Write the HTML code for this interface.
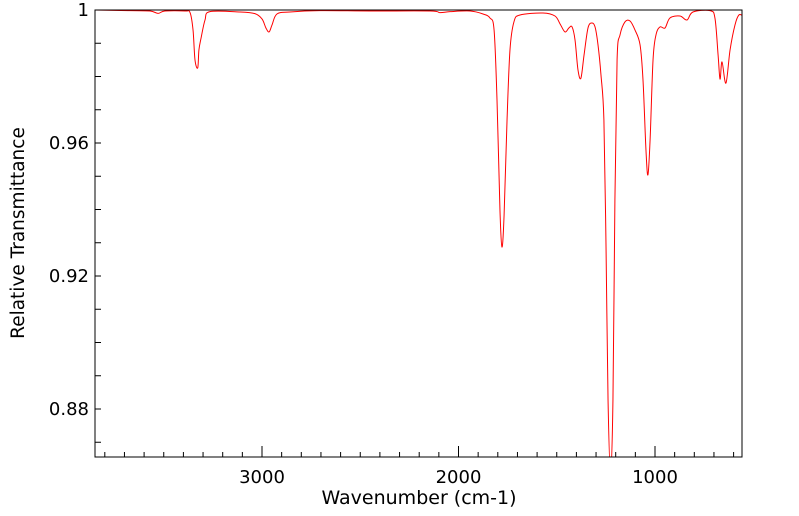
<!DOCTYPE html>
<html><head><meta charset="utf-8"><style>
body{margin:0;background:#fff}
svg{display:block;font-family:"DejaVu Sans","Liberation Sans",sans-serif}
</style></head><body>
<svg id="chart" width="799" height="516">
<g id="axes"></g>
<g clip-path="url(#clip)"><path id="line" fill="none" stroke="#ff0000" stroke-width="1"/></g>
<clipPath id="clip"><rect x="95" y="10" width="647" height="447"/></clipPath>
<rect x="95" y="10" width="647" height="447" fill="none" stroke="#000" stroke-width="1"/>
<text x="419" y="504" text-anchor="middle" font-size="19">Wavenumber (cm-1)</text>
<text transform="translate(24,233) rotate(-90)" text-anchor="middle" font-size="18.5">Relative Transmittance</text>
</svg>
<script>
const wavenumbers=[3850,3672,3570,3529,3494,3392,3366,3351,3341,3327,3321,3310,3290,3265,3112,3036,3000,2980,2964,2949,2924,2858,2705,2450,2145,2094,2043,1941,1875,1840,1819,1804,1789,1779,1768,1753,1738,1718,1687,1570,1509,1483,1458,1438,1422,1407,1392,1377,1361,1341,1321,1305,1290,1275,1260,1249,1239,1226,1214,1204,1193,1178,1153,1127,1102,1076,1061,1046,1036,1025,1010,995,975,949,924,873,837,807,720,695,679,669,659,639,618,593,573,552];
const transmittance=[1.000,0.9998,0.9997,0.9990,0.9997,0.9997,0.9992,0.9940,0.9850,0.9826,0.9880,0.9916,0.9970,0.9995,0.9994,0.9989,0.9973,0.9946,0.9934,0.9955,0.9988,0.9994,0.9998,0.9997,0.9997,0.9992,0.9995,0.9997,0.9988,0.9976,0.9940,0.9729,0.9398,0.9287,0.9383,0.9669,0.9880,0.9964,0.9985,0.9991,0.9982,0.9958,0.9934,0.9946,0.9949,0.9910,0.9820,0.9795,0.9865,0.9946,0.9961,0.9949,0.9895,0.9805,0.9669,0.9278,0.8827,0.8602,0.8827,0.9429,0.9850,0.9925,0.9964,0.9967,0.9940,0.9895,0.9789,0.9579,0.9504,0.9609,0.9850,0.9925,0.9949,0.9946,0.9976,0.9982,0.9970,0.9994,0.9998,0.9976,0.9865,0.9792,0.9844,0.9780,0.9880,0.9955,0.9985,0.9982];
const xTicks=[3000,2000,1000];
const xTickLabels=["3000","2000","1000"];
const yTicks=[0.88,0.92,0.96,1];
const yTickLabels=["0.88","0.92","0.96","1"];
const X=w=>262+(3000-w)*0.1965;
const Y=t=>10+(1-t)*3325;
const NS="http://www.w3.org/2000/svg";
const axes=document.getElementById('axes');
function mk(tag,attrs){const e=document.createElementNS(NS,tag);for(const k in attrs)e.setAttribute(k,attrs[k]);axes.appendChild(e);return e;}
const pts=wavenumbers.map((w,i)=>[X(w),Y(transmittance[i])]);
let d="M"+pts[0][0].toFixed(2)+","+pts[0][1].toFixed(2);
for(let i=0;i<pts.length-1;i++){
  const p0=pts[Math.max(0,i-1)],p1=pts[i],p2=pts[i+1],p3=pts[Math.min(pts.length-1,i+2)];
  const c1=[p1[0]+(p2[0]-p0[0])/6,p1[1]+(p2[1]-p0[1])/6];
  const c2=[p2[0]-(p3[0]-p1[0])/6,p2[1]-(p3[1]-p1[1])/6];
  d+="C"+c1.map(v=>v.toFixed(2)).join(",")+" "+c2.map(v=>v.toFixed(2)).join(",")+" "+p2.map(v=>v.toFixed(2)).join(",");
}
document.getElementById('line').setAttribute('d',d);
for(let w=3800;w>=600;w-=100){
  const major=w%1000===0;const x=X(w);
  const t=mk('line',{x1:x,x2:x,y1:457,y2:major?446:452,stroke:'#000','stroke-width':1});
  
  
}
xTicks.forEach((w,i)=>{const t=mk('text',{x:X(w),y:483,'text-anchor':'middle','font-size':18});t.textContent=xTickLabels[i];
  
  });
for(let k=0;k<=13;k++){const v=1-k*0.01;const y=Y(v);if(y>457)break;
  const t=mk('line',{x1:95,x2:101,y1:y,y2:y,stroke:'#000','stroke-width':1});
  
  }
yTicks.forEach((v,i)=>{const t=mk('text',{x:89,y:Y(v)+6,'text-anchor':'end','font-size':18});t.textContent=yTickLabels[i];
  
  });
</script>
</body></html>
